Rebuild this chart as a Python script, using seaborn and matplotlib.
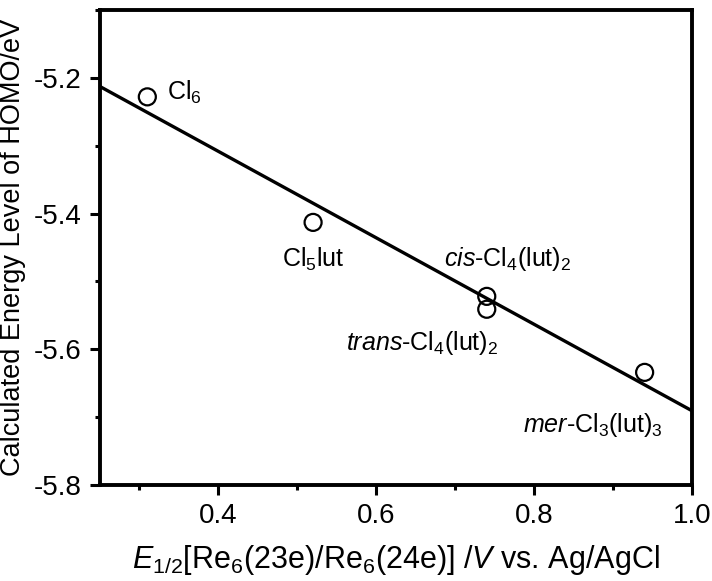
import numpy as np
import pandas as pd
import matplotlib
matplotlib.use('Agg')
import matplotlib.pyplot as plt
from matplotlib.ticker import MultipleLocator
import seaborn as sns

# half-wave potentials vs. calculated HOMO levels
names = [r'Cl$_6$', r'Cl$_5$lut', r'$\it{cis}$-Cl$_4$(lut)$_2$',
         r'$\it{trans}$-Cl$_4$(lut)$_2$', r'$\it{mer}$-Cl$_3$(lut)$_3$']
e_half = [0.31, 0.52, 0.74, 0.74, 0.94]
homo = [-5.228, -5.413, -5.522, -5.541, -5.634]

# label offsets (points) and alignment
offsets = [(14, 3), (0, -17), (15, 17), (8, -14), (-37, -28)]
aligns = [('left', 'center'), ('center', 'top'), ('center', 'bottom'),
          ('right', 'top'), ('center', 'top')]

df = pd.DataFrame({'E': e_half, 'HOMO': homo, 'name': names})

sns.set_style('ticks', {'axes.edgecolor': 'black', 'text.color': 'black',
                        'xtick.color': 'black', 'ytick.color': 'black',
                        'axes.labelcolor': 'black'})
plt.rcParams['font.family'] = ['Liberation Sans', 'DejaVu Sans']
plt.rcParams['mathtext.fontset'] = 'custom'
plt.rcParams['mathtext.rm'] = 'Liberation Sans'
plt.rcParams['mathtext.it'] = 'Liberation Sans:italic'
plt.rcParams['mathtext.bf'] = 'Liberation Sans:bold'
plt.rcParams['axes.unicode_minus'] = False

fig = plt.figure(figsize=(7.12, 5.81), dpi=100)
ax = fig.add_axes([0.1404, 0.1652, 0.8315, 0.8176])
ax.set_xlim(0.25, 1.0)
ax.set_ylim(-5.8, -5.1)

sns.regplot(data=df, x='E', y='HOMO', ax=ax, scatter=False, ci=None,
            truncate=False, color='black', line_kws={'lw': 2.4})
sns.scatterplot(data=df, x='E', y='HOMO', ax=ax, s=150, marker='o',
                facecolor='none', edgecolor='black', linewidth=1.6, zorder=3)

for n, x, y, off, al in zip(names, e_half, homo, offsets, aligns):
    ax.annotate(n, (x, y), xytext=off, textcoords='offset points',
                ha=al[0], va=al[1], fontsize=18, color='black')

ax.set_xlim(0.25, 1.0)
ax.set_ylim(-5.8, -5.1)
ax.xaxis.set_minor_locator(MultipleLocator(0.1))
ax.yaxis.set_minor_locator(MultipleLocator(0.1))
ax.set_xticks([0.4, 0.6, 0.8, 1.0])
ax.set_yticks([-5.2, -5.4, -5.6, -5.8])

for s in ax.spines.values():
    s.set_linewidth(2.8)
    s.set_color('black')
    s.set_visible(True)
ax.tick_params(which='major', length=7, width=2.2, labelsize=20, pad=6,
               direction='out', color='black', labelcolor='black')
ax.tick_params(which='minor', length=3.5, width=2.2, direction='out',
               color='black')

ax.set_xlabel(r'$E_{1/2}$[Re$_6$(23e)/Re$_6$(24e)] /$V$ vs. Ag/AgCl',
              fontsize=22, labelpad=10, color='black')
ax.set_ylabel('Calculated Energy Level of HOMO/eV', fontsize=19.5,
              labelpad=6, color='black')

fig.savefig('out.png', dpi=100)
